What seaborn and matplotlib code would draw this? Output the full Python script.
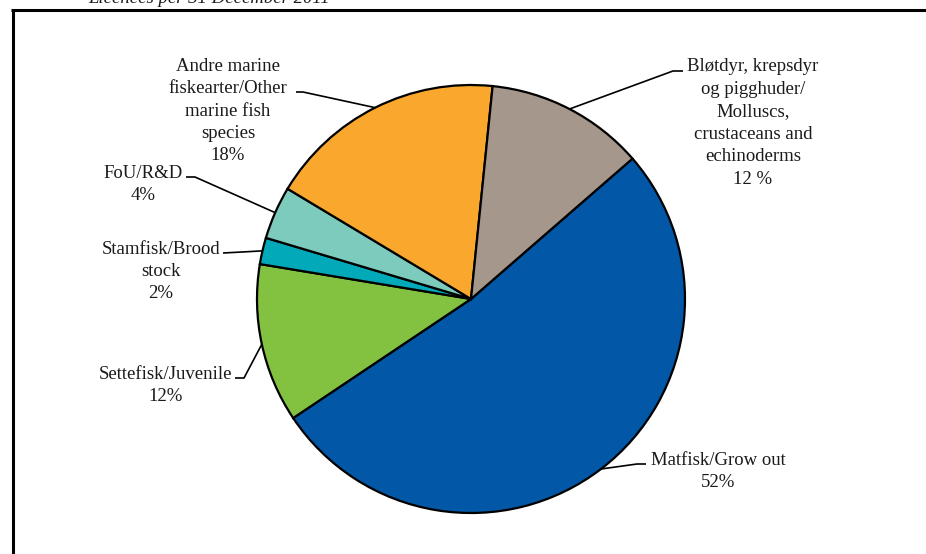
import matplotlib
matplotlib.use("Agg")
import matplotlib.pyplot as plt
from matplotlib.lines import Line2D
import seaborn as sns
import numpy as np

categories = ["Matfisk/Grow out", "Settefisk/Juvenile", "Stamfisk/Brood\nstock", "FoU/R&D",
              "Andre marine\nfiskearter/Other\nmarine fish\nspecies",
              "Bløtdyr, krepsdyr\nog pigghuder/\nMolluscs,\ncrustaceans and\nechinoderms"]
values = [52, 12, 2, 4, 18, 12]
pct_labels = ["52%", "12%", "2%", "4%", "18%", "12 %"]
colors = ["#0257A6", "#83C241", "#02A9B9", "#7DCBBD", "#F9A82D", "#A5978B"]
title = "Licences per 31 December 2011"

sns.set_theme(style="white")
plt.rcParams['font.family'] = ['Liberation Serif', 'DejaVu Serif']

W, H = 926, 554
fig = plt.figure(figsize=(W / 100, H / 100), dpi=100)
ax = fig.add_axes([0, 0, 1, 1])
cx, cy, R = 471, 299, 214


def px(x, y):
    return ((x - cx) / R, (cy - y) / R)


wedges, _ = ax.pie(values, colors=colors, startangle=41, counterclock=False, radius=1,
                   wedgeprops=dict(edgecolor='black', linewidth=1.6))
ax.set_xlim(-cx / R, (W - cx) / R)
ax.set_ylim(-(H - cy) / R, cy / R)
ax.set_aspect('equal')
ax.axis('off')

# label layout: text center (px), block center y (px), stub end, elbow (px)
layout = [
    (718, 471.5, (646, 464), (637, 464)),
    (166, 385.5, (235, 378), (244, 378)),
    (161, 271.5, (223, 253), (242, 252)),
    (143, 184.5, (186, 177), (195, 177)),
    (228, 111.0, (296, 92), (303, 92)),
    (753, 123.0, (683, 71), (673, 71)),
]

for w, cat, pct, (tx, ty, stub, elbow) in zip(wedges, categories, pct_labels, layout):
    mid = np.deg2rad((w.theta1 + w.theta2) / 2)
    ex, ey = np.cos(mid), np.sin(mid)
    s = px(*stub)
    e = px(*elbow)
    ax.plot([s[0], e[0], ex], [s[1], e[1], ey], color='black', lw=1.2, solid_capstyle='butt')
    p = px(tx, ty)
    ax.text(p[0], p[1], cat + "\n" + pct, ha='center', va='center', fontsize=13.5,
            linespacing=1.42, color='#1a1a1a')

# frame lines (figure pixels)
fig.add_artist(Line2D([12.5 / W, 12.5 / W], [1 - 10 / H, 0], transform=fig.transFigure,
                      color='black', lw=2.2, solid_capstyle='butt'))
fig.add_artist(Line2D([11 / W, 1], [1 - 9.5 / H, 1 - 9.5 / H], transform=fig.transFigure,
                      color='black', lw=2.2, solid_capstyle='butt'))
fig.text(88 / W, 1 - 3 / H, title, ha='left', va='baseline', fontsize=13.5, style='italic',
         color='#1a1a1a')

fig.savefig("out.png", dpi=100)
